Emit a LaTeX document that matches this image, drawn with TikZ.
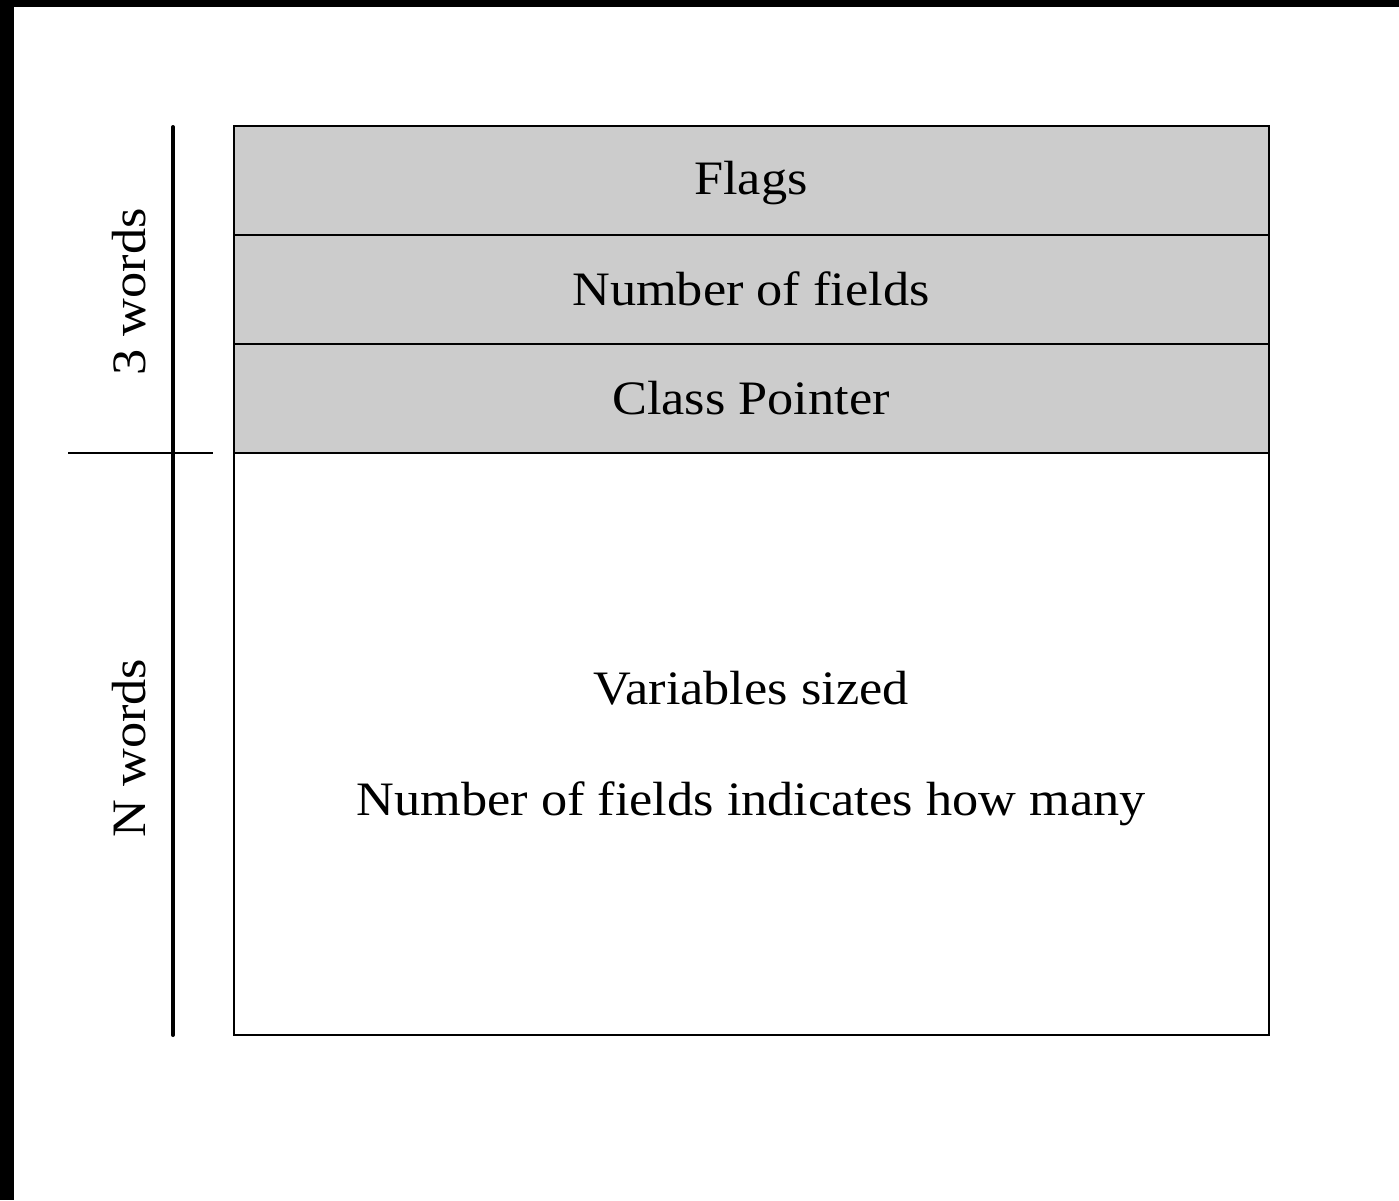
\documentclass[tikz,border=0pt]{standalone}
\usepackage{fontspec}
\setmainfont{Liberation Serif}[FakeStretch=1.09]
\begin{document}
\begin{tikzpicture}[x=1pt,y=-1pt,
  cell/.style={draw=black,line width=2pt,fill=black!20},
  lbl/.style={font=\fontsize{48}{56}\selectfont,inner sep=0pt,anchor=base},
  thick rule/.style={line width=4pt,line cap=round},
  thin rule/.style={line width=2pt}]
\useasboundingbox (0,0) rectangle (1399,1200);
\fill[white] (0,0) rectangle (1399,1200);
\fill[black] (0,0) rectangle (1399,7);
\fill[black] (0,0) rectangle (14,1200);
% cells
\draw[cell] (234,126) rectangle (1269,235);
\draw[cell] (234,235) rectangle (1269,344);
\draw[cell] (234,344) rectangle (1269,453);
\draw[line width=2pt] (234,453) rectangle (1269,1035);
\node[lbl] (flags) at (751,194) {Flags};
\node[lbl] (nf) at (751,305) {Number of fields};
\node[lbl] (cp) at (751,414) {Class Pointer};
\node[lbl] (vs) at (751,704) {Variables sized};
\node[lbl] (nfi) at (751,815) {Number of fields indicates how many};
% side rules
\coordinate (vt) at (173,127);
\coordinate (vb) at (173,1035);
\coordinate (hl) at (68,453);
\coordinate (hr) at (213,453);
\draw[thick rule] (vt) -- (vb);
\draw[thin rule] (hl) -- (hr);
\node[lbl,rotate=90] (three) at (145,292) {3 words};
\node[lbl,rotate=90] (nw) at (145,748) {N words};
\end{tikzpicture}
\end{document}
